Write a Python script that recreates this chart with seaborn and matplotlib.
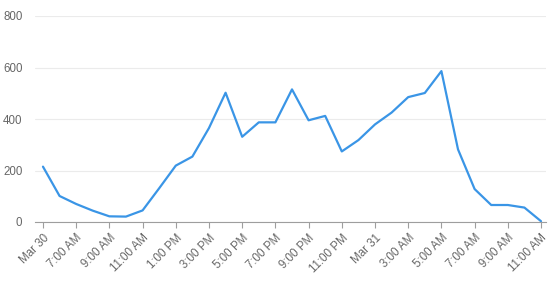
import matplotlib
matplotlib.use("Agg")
import matplotlib.pyplot as plt
import seaborn as sns
import pandas as pd

hours = list(range(31))
values = [215, 101, 70, 44, 22, 21, 45, 131, 219, 254, 365, 502, 331, 387, 387,
          515, 395, 412, 274, 318, 379, 425, 485, 501, 586, 282, 128, 66, 66, 56, 3]
tick_pos = list(range(0, 31, 2))
tick_labels = ["Mar 30", "7:00 AM", "9:00 AM", "11:00 AM", "1:00 PM", "3:00 PM",
               "5:00 PM", "7:00 PM", "9:00 PM", "11:00 PM", "Mar 31", "3:00 AM",
               "5:00 AM", "7:00 AM", "9:00 AM", "11:00 AM"]
y_ticks = [0, 200, 400, 600, 800]

df = pd.DataFrame({"hour": hours, "value": values})

sns.set_theme(style="white")
plt.rcParams["font.family"] = ["Liberation Sans", "DejaVu Sans"]

fig = plt.figure(figsize=(5.5, 2.86), dpi=100)
ax = fig.add_axes([35/550, (286-222)/286, (546-35)/550, (222-16)/286])
sns.lineplot(data=df, x="hour", y="value", ax=ax, color="#3a95e6", linewidth=1.6)

ax.set_xlim(-0.48, 30.3)
ax.set_ylim(0, 800)
ax.set_yticks(y_ticks)
ax.set_yticklabels([str(v) for v in y_ticks], fontsize=8.3, color="#666666")
ax.yaxis.grid(True, color="#ebebeb", linewidth=0.8)
ax.set_axisbelow(True)
ax.set_xticks(tick_pos)
ax.set_xticklabels(tick_labels, rotation=45, ha="right", rotation_mode="anchor",
                   fontsize=8.3, color="#666666")
ax.tick_params(axis="x", length=4, width=0.8, color="#9e9e9e", pad=3, bottom=True)
ax.tick_params(axis="y", length=0, pad=9)
ax.set_xlabel("")
ax.set_ylabel("")
for s in ["top", "right", "left"]:
    ax.spines[s].set_visible(False)
ax.spines["bottom"].set_color("#9e9e9e")
ax.spines["bottom"].set_linewidth(0.8)

fig.savefig("out.png", dpi=100)
